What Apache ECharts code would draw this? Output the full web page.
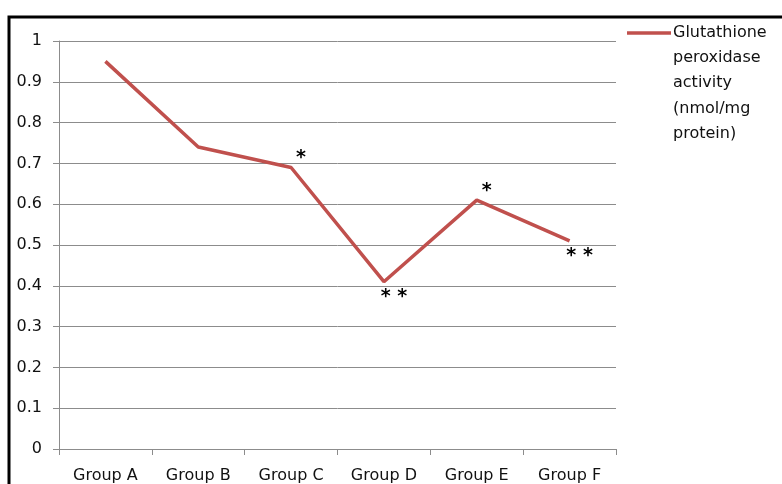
<!DOCTYPE html>
<html>
<head>
<meta charset="utf-8">
<script src="https://cdn.jsdelivr.net/npm/echarts@6/dist/echarts.min.js"></script>
<style>
  html, body { margin: 0; padding: 0; background: #fff; }
  #chart { width: 782px; height: 484px; }
</style>
</head>
<body>
<div id="chart"></div>
<script>
// Groups on the x axis
const groups = ['Group A', 'Group B', 'Group C', 'Group D', 'Group E', 'Group F'];
// Glutathione peroxidase activity per group (nmol/mg protein)
const gpxActivity = [0.95, 0.74, 0.69, 0.41, 0.61, 0.51];
// Significance marks per group
const significance = ['', '', '*', '**', '*', '**'];
// Where each mark sits relative to its point
const markSide = ['', '', 'above', 'below', 'above', 'below'];
// Y axis tick values
const yMin = 0, yMax = 1, yStep = 0.1;

const seriesName = 'Glutathione peroxidase activity (nmol/mg protein)';
const legendLines = ['Glutathione', 'peroxidase', 'activity', '(nmol/mg', 'protein)'];
const lineColor = '#c0504d';
const font = '"DejaVu Sans", "Liberation Sans", sans-serif';

const chart = echarts.init(document.getElementById('chart'));

const data = gpxActivity.map((v, i) => {
  const item = { value: v };
  if (significance[i]) {
    const above = markSide[i] === 'above';
    item.label = {
      show: true,
      formatter: significance[i].split('').join(' '),
      position: above ? 'top' : 'bottom',
      distance: 2,
      offset: above ? [10, 2] : [10, 4],
      color: '#000',
      fontSize: 19,
      fontWeight: 'bold',
      fontFamily: 'DejaVu Sans, sans-serif'
    };
  }
  return item;
});

chart.setOption({
  animation: false,
  backgroundColor: '#fff',
  grid: { left: 59, right: 166, top: 41, bottom: 35, containLabel: false },
  xAxis: {
    type: 'category',
    data: groups,
    boundaryGap: true,
    axisLine: { lineStyle: { color: '#8c8c8c', width: 1 } },
    axisTick: { show: true, length: 6, lineStyle: { color: '#8c8c8c' } },
    axisLabel: { color: '#111', fontSize: 16, fontFamily: font, margin: 19 },
    splitLine: { show: false }
  },
  yAxis: {
    type: 'value',
    min: yMin, max: yMax, interval: yStep,
    axisLine: { show: true, lineStyle: { color: '#8c8c8c', width: 1 } },
    axisTick: { show: true, length: 6, lineStyle: { color: '#8c8c8c' } },
    axisLabel: {
      color: '#111', fontSize: 16, fontFamily: font, margin: 17,
      formatter: v => String(Math.round(v * 10) / 10)
    },
    splitLine: { show: true, lineStyle: { color: '#8c8c8c', width: 1 } }
  },
  series: [{
    name: seriesName,
    type: 'line',
    data: data,
    showSymbol: true,
    symbol: 'circle',
    symbolSize: 0.1,
    lineStyle: { color: lineColor, width: 3.5 },
    itemStyle: { color: lineColor }
  }],
  graphic: [
    // frame around the chart area
    { type: 'rect', shape: { x: 9, y: 17, width: 800, height: 500 },
      style: { fill: 'none', stroke: '#000', lineWidth: 3 }, silent: true },
    // legend swatch and label
    { type: 'line', shape: { x1: 627, y1: 33, x2: 671, y2: 33 },
      style: { stroke: lineColor, lineWidth: 3.5 } },
    { type: 'text', left: 673, top: 20,
      style: { text: legendLines.join('\n'), fill: '#111', font: '16px ' + font, lineHeight: 25.3 } }
  ]
});
</script>
</body>
</html>
